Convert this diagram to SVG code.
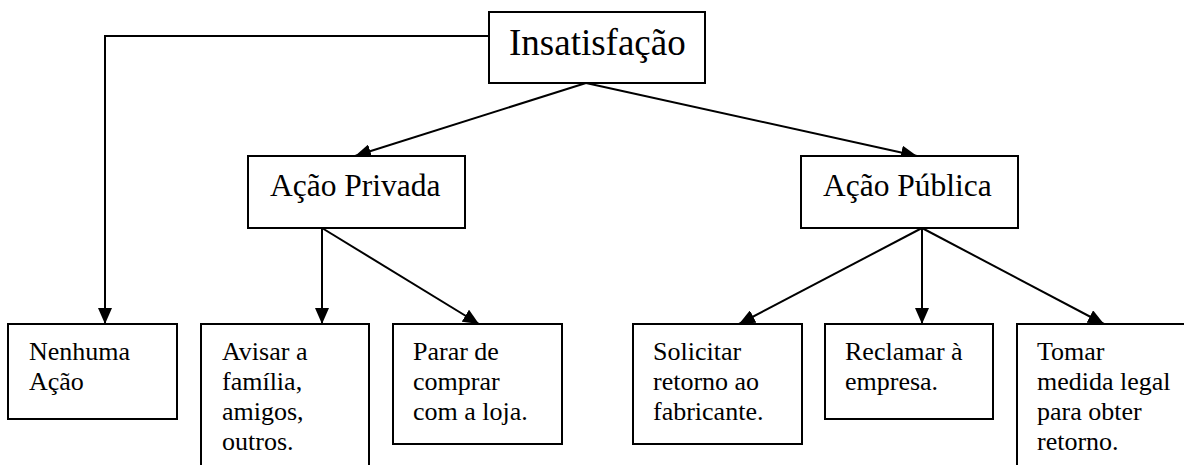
<svg xmlns="http://www.w3.org/2000/svg" width="1184" height="465" viewBox="0 0 1184 465">
<style>
.box{fill:#fff;stroke:#000;stroke-width:2}
.t{font-family:"Liberation Serif","Times New Roman",serif;fill:#000}
.s{font-size:26px}
.c{fill:none;stroke:#000;stroke-width:2}
</style>
<defs>
<marker id="ah" markerWidth="16" markerHeight="14" refX="16" refY="7" orient="auto" markerUnits="userSpaceOnUse">
<path d="M0,0 L16,7 L0,14 Z" fill="#000"/>
</marker>
</defs>
<rect width="1184" height="465" fill="#fff"/>
<g id="connectors">
<polyline class="c" points="489,36 105,36 105,324" marker-end="url(#ah)"/>
<line class="c" x1="586" y1="83" x2="355" y2="156" marker-end="url(#ah)"/>
<line class="c" x1="586" y1="83" x2="917" y2="156" marker-end="url(#ah)"/>
<line class="c" x1="322" y1="228" x2="322" y2="324" marker-end="url(#ah)"/>
<line class="c" x1="322" y1="228" x2="479" y2="324" marker-end="url(#ah)"/>
<line class="c" x1="922" y1="228" x2="739" y2="324" marker-end="url(#ah)"/>
<line class="c" x1="922" y1="228" x2="922" y2="324" marker-end="url(#ah)"/>
<line class="c" x1="922" y1="228" x2="1104" y2="324" marker-end="url(#ah)"/>
</g>
<g id="insatisfacao">
<rect class="box" x="489" y="12" width="216" height="71"/>
<text class="t" x="509" y="55" font-size="37">Insatisfação</text>
</g>
<g id="acao-privada">
<rect class="box" x="248" y="156" width="217" height="72"/>
<text class="t" x="270" y="196" font-size="31.5">Ação Privada</text>
</g>
<g id="acao-publica">
<rect class="box" x="801" y="156" width="217" height="72"/>
<text class="t" x="823" y="196" font-size="31.5">Ação Pública</text>
</g>
<g id="nenhuma">
<rect class="box" x="8" y="324" width="169" height="95"/>
<text class="t s" x="29" y="360">Nenhuma</text>
<text class="t s" x="29" y="390">Ação</text>
</g>
<g id="avisar">
<rect class="box" x="201" y="324" width="168" height="150"/>
<text class="t s" x="222" y="360">Avisar a</text>
<text class="t s" x="222" y="390">família,</text>
<text class="t s" x="222" y="420">amigos,</text>
<text class="t s" x="222" y="450">outros.</text>
</g>
<g id="parar">
<rect class="box" x="393" y="324" width="169" height="120"/>
<text class="t s" x="413" y="360">Parar de</text>
<text class="t s" x="413" y="390">comprar</text>
<text class="t s" x="413" y="420">com a loja.</text>
</g>
<g id="solicitar">
<rect class="box" x="633" y="324" width="169" height="120"/>
<text class="t s" x="653" y="360">Solicitar</text>
<text class="t s" x="653" y="390">retorno ao</text>
<text class="t s" x="653" y="420">fabricante.</text>
</g>
<g id="reclamar">
<rect class="box" x="825" y="324" width="168" height="95"/>
<text class="t s" x="845" y="360">Reclamar à</text>
<text class="t s" x="845" y="390">empresa.</text>
</g>
<g id="tomar">
<rect class="box" x="1017" y="324" width="180" height="150"/>
<text class="t s" x="1037" y="360">Tomar</text>
<text class="t s" x="1037" y="390">medida legal</text>
<text class="t s" x="1037" y="420">para obter</text>
<text class="t s" x="1037" y="450">retorno.</text>
</g>
</svg>
